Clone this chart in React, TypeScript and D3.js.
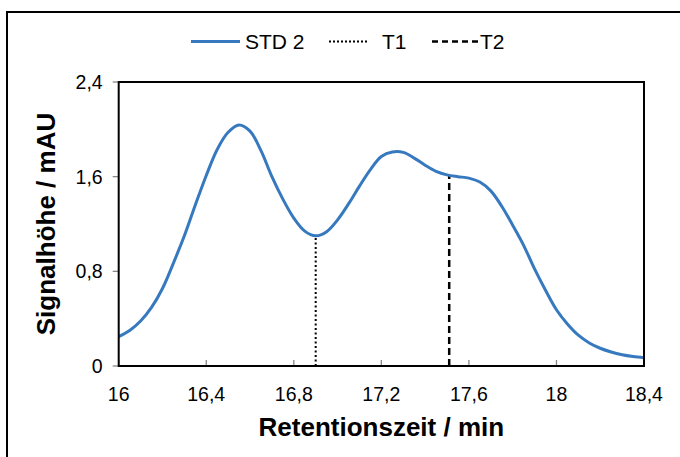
import React from "react";
import * as d3 from "d3";

const timeValues = [16.0, 16.05, 16.1, 16.15, 16.2, 16.25, 16.3, 16.35, 16.4, 16.45, 16.5, 16.55, 16.6, 16.65, 16.7, 16.75, 16.8, 16.85, 16.9, 16.95, 17.0, 17.05, 17.1, 17.15, 17.2, 17.25, 17.3, 17.35, 17.4, 17.45, 17.5, 17.55, 17.6, 17.65, 17.7, 17.75, 17.8, 17.85, 17.9, 17.95, 18.0, 18.05, 18.1, 18.15, 18.2, 18.25, 18.3, 18.35, 18.4];
const signalValues = [0.248, 0.3, 0.38, 0.495, 0.655, 0.87, 1.1, 1.36, 1.61, 1.83, 1.975, 2.037, 1.985, 1.82, 1.6, 1.41, 1.25, 1.14, 1.1, 1.135, 1.235, 1.37, 1.52, 1.66, 1.77, 1.808, 1.805, 1.757, 1.697, 1.645, 1.615, 1.6, 1.588, 1.555, 1.48, 1.35, 1.19, 1.02, 0.82, 0.64, 0.475, 0.355, 0.26, 0.195, 0.15, 0.118, 0.095, 0.08, 0.07];
const markerNames = ["T1", "T2"];
const markerTimes = [16.9, 17.51];
const markerHeights = [1.1, 1.612];
const xTicks = [16, 16.4, 16.8, 17.2, 17.6, 18, 18.4];
const yTicks = [0, 0.8, 1.6, 2.4];

const fmt = (v: number) => String(+v.toFixed(1)).replace(".", ",");

export default function App() {
  const W = 680, H = 457;
  const left = 118.7, right = 644, top = 82, bottom = 366;
  const x = d3.scaleLinear().domain([16, 18.4]).range([left, right]);
  const y = d3.scaleLinear().domain([0, 2.4]).range([bottom, top]);
  const data = timeValues.map((t, i) => [t, signalValues[i]] as [number, number]);
  const line = d3.line<[number, number]>().x(d => x(d[0])).y(d => y(d[1])).curve(d3.curveCatmullRom.alpha(0.5));
  const blue = "#3679BE";
  const font = "'Liberation Sans', Arial, sans-serif";
  return (
    <div style={{ position: "fixed", left: 0, top: 0 }}>
      <svg width={W} height={H} style={{ display: "block", background: "#fff" }} fontFamily={font}>
        <rect x={7} y={12} width={700} height={480} fill="#fff" stroke="#000" strokeWidth={2} />
        {/* legend */}
        <g>
          <line x1={191} x2={240} y1={41.5} y2={41.5} stroke={blue} strokeWidth={3} />
          <text x={245} y={48.5} fontSize={21}>STD 2</text>
          <line x1={329} x2={367} y1={41.5} y2={41.5} stroke="#000" strokeWidth={2} strokeDasharray="2 2" />
          <text x={382} y={48.5} fontSize={21}>{markerNames[0]}</text>
          <line x1={432} x2={478} y1={41.5} y2={41.5} stroke="#000" strokeWidth={2.5} strokeDasharray="6 4" />
          <text x={480} y={48.5} fontSize={21}>{markerNames[1]}</text>
        </g>
        {/* ticks */}
        {xTicks.map(t => (
          <g key={"x" + t}>
            <line x1={x(t)} x2={x(t)} y1={bottom} y2={bottom - 6} stroke="#888" strokeWidth={1.3} />
            <text x={x(t)} y={bottom + 35} fontSize={19.5} textAnchor="middle">{fmt(t)}</text>
          </g>
        ))}
        {yTicks.map(t => (
          <g key={"y" + t}>
            <line x1={left - 6} x2={left} y1={y(t)} y2={y(t)} stroke="#888" strokeWidth={1.3} />
            <text x={left - 16} y={y(t) + 7} fontSize={19.5} textAnchor="end">{fmt(t)}</text>
          </g>
        ))}
        {/* markers */}
        <line x1={x(markerTimes[0])} x2={x(markerTimes[0])} y1={y(0)} y2={y(markerHeights[0])} stroke="#000" strokeWidth={2} strokeDasharray="2 2.5" />
        <line x1={x(markerTimes[1])} x2={x(markerTimes[1])} y1={y(0)} y2={y(markerHeights[1])} stroke="#000" strokeWidth={2.5} strokeDasharray="7 4" />
        <path d={line(data) || ""} fill="none" stroke={blue} strokeWidth={3} />
        <rect x={left} y={top} width={right - left} height={bottom - top} fill="none" stroke="#000" strokeWidth={2} />
        <text x={(left + right) / 2} y={436} fontSize={26} fontWeight="bold" textAnchor="middle">Retentionszeit / min</text>
        <text transform={`translate(55,${(top + bottom) / 2}) rotate(-90)`} fontSize={26} fontWeight="bold" textAnchor="middle">Signalhöhe / mAU</text>
      </svg>
    </div>
  );
}
